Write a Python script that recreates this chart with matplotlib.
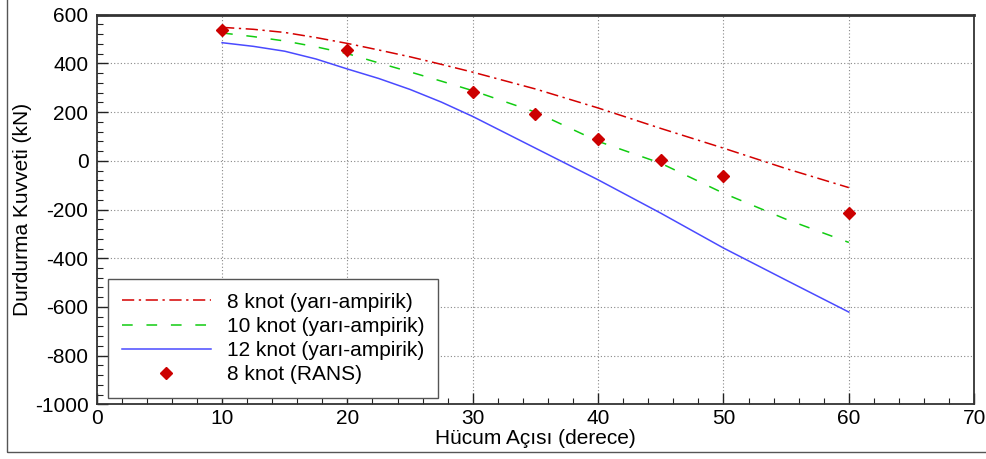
import matplotlib
matplotlib.use('Agg')
import matplotlib.pyplot as plt
from matplotlib.patches import Rectangle
from matplotlib.ticker import MultipleLocator

plt.rcParams['font.family'] = ['Liberation Sans', 'DejaVu Sans']
plt.rcParams['axes.unicode_minus'] = False

# yarı-ampirik eğriler
aci = [10, 12.5, 15, 17.5, 20, 22.5, 25, 27.5, 30, 35, 40, 45, 50, 55, 60]
knot8 = [548, 540, 527, 506, 482, 455, 427, 396, 364, 295, 217, 133, 52, -32, -110]
knot10 = [525, 510, 492, 468, 440, 402, 365, 327, 288, 200, 80, -10, -133, -240, -335]
knot12 = [485, 470, 450, 418, 377, 338, 293, 241, 182, 52, -78, -215, -358, -490, -621]
# RANS sonuçları
rans_aci = [10, 20, 30, 35, 40, 45, 50, 60]
rans8 = [537, 454, 284, 191, 89, 4, -64, -214]

fig = plt.figure(figsize=(9.87, 4.59), dpi=100)
ax = fig.add_axes([0.098, 0.119, 0.889, 0.849])

ax.plot(aci, knot8, color='#d40000', lw=1.1, dashes=(8, 3, 1.5, 3),
        label='8 knot (yarı-ampirik)')
ax.plot(aci, knot10, color='#11cc11', lw=1.1, dashes=(7, 9),
        label='10 knot (yarı-ampirik)')
ax.plot(aci, knot12, color='#4a4aff', lw=1.1, label='12 knot (yarı-ampirik)')
ax.plot(rans_aci, rans8, ls='none', marker='D', ms=6.5, color='#cc0000',
        label='8 knot (RANS)')

ax.set_xlim(0, 70)
ax.set_ylim(-1000, 600)
ax.xaxis.set_major_locator(MultipleLocator(10))
ax.xaxis.set_minor_locator(MultipleLocator(2))
ax.yaxis.set_major_locator(MultipleLocator(200))
ax.yaxis.set_minor_locator(MultipleLocator(40))
ax.tick_params(which='both', direction='in', top=False, right=False,
               labelsize=15, color='#222222')
ax.tick_params(axis='y', pad=6)
ax.tick_params(axis='x', pad=3)
ax.tick_params(which='major', length=8, width=1)
ax.tick_params(which='minor', length=4.5, width=0.8)
ax.grid(True, which='major', color='#888888', ls=(0, (1, 2)), lw=0.8)
for s in ax.spines.values():
    s.set_color('#333333')
    s.set_linewidth(1.3)
ax.spines['top'].set_linewidth(2)

ax.set_xlabel('Hücum Açısı (derece)', fontsize=15, labelpad=1)
ax.set_ylabel('Durdurma Kuvveti (kN)', fontsize=15, labelpad=2)

leg = ax.legend(loc='lower left', bbox_to_anchor=(0.013, 0.017), fontsize=15,
                handlelength=4.3, handletextpad=0.75, labelspacing=0.25,
                borderpad=0.65, fancybox=False, framealpha=1,
                edgecolor='#555555', borderaxespad=0)
leg.get_frame().set_linewidth(1)

fig.add_artist(Rectangle((7 / 987, 7 / 459), 1.0, 1.0, transform=fig.transFigure,
                         fill=False, edgecolor='#555555', lw=1))

fig.savefig('out.png', dpi=100)
